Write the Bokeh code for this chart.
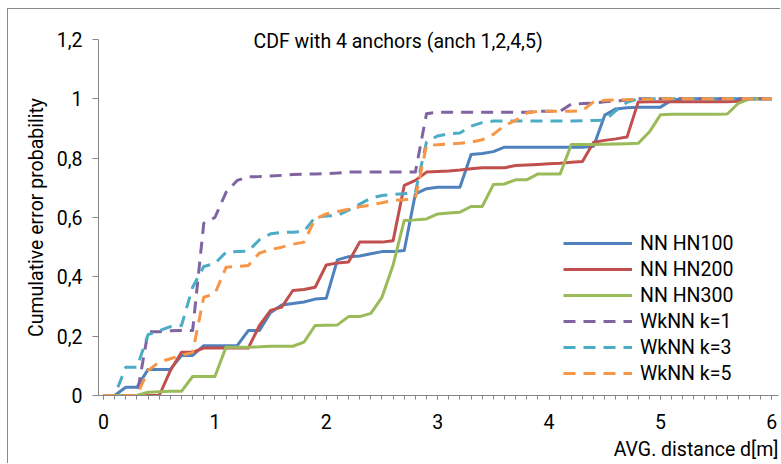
from bokeh.plotting import figure
from bokeh.models import (Range1d, SingleIntervalTicker, FixedTicker,
                          CustomJSTickFormatter, Legend, Title)
from bokeh.embed import file_html
from bokeh.resources import INLINE

# distance samples d[m]
DIST = [0.0, 0.1, 0.2, 0.3, 0.4, 0.5, 0.6, 0.7, 0.8, 0.9,
        1.0, 1.1, 1.2, 1.3, 1.4, 1.5, 1.6, 1.7, 1.8, 1.9,
        2.0, 2.1, 2.2, 2.3, 2.4, 2.5, 2.6, 2.7, 2.8, 2.9,
        3.0, 3.1, 3.2, 3.3, 3.4, 3.5, 3.6, 3.7, 3.8, 3.9,
        4.0, 4.1, 4.2, 4.3, 4.4, 4.5, 4.6, 4.7, 4.8, 4.9,
        5.0, 5.1, 5.2, 5.3, 5.4, 5.5, 5.6, 5.7, 5.8, 5.9,
        6.0]

NN_HN100 = [0, 0, 0.028, 0.028, 0.088, 0.088, 0.088, 0.135, 0.135, 0.168,
            0.168, 0.168, 0.168, 0.219, 0.219, 0.28, 0.305, 0.31, 0.315, 0.325,
            0.328, 0.457, 0.468, 0.47, 0.478, 0.485, 0.485, 0.489, 0.68, 0.697,
            0.702, 0.702, 0.702, 0.812, 0.816, 0.822, 0.837, 0.837, 0.837, 0.837,
            0.837, 0.837, 0.837, 0.837, 0.84, 0.945, 0.966, 0.97, 0.972, 0.972,
            0.972, 0.995, 1, 1, 1, 1, 1, 1, 1, 1,
            1]

NN_HN200 = [0, 0, 0, 0, 0, 0, 0.084, 0.146, 0.146, 0.16,
            0.16, 0.16, 0.16, 0.16, 0.236, 0.287, 0.298, 0.354, 0.357, 0.365,
            0.44, 0.447, 0.45, 0.517, 0.517, 0.517, 0.522, 0.708, 0.725, 0.753,
            0.755, 0.757, 0.76, 0.764, 0.768, 0.768, 0.768, 0.775, 0.777, 0.779,
            0.781, 0.783, 0.786, 0.789, 0.854, 0.86, 0.865, 0.871, 0.989, 0.99,
            0.99, 0.99, 0.99, 0.99, 0.99, 0.99, 0.99, 0.992, 1, 1,
            1]

NN_HN300 = [0, 0, 0, 0, 0.011, 0.013, 0.014, 0.014, 0.064, 0.064,
            0.064, 0.163, 0.163, 0.163, 0.164, 0.166, 0.166, 0.166, 0.18, 0.236,
            0.237, 0.238, 0.266, 0.266, 0.277, 0.331, 0.44, 0.59, 0.592, 0.595,
            0.612, 0.615, 0.618, 0.637, 0.637, 0.711, 0.713, 0.727, 0.727, 0.747,
            0.747, 0.747, 0.846, 0.846, 0.846, 0.847, 0.848, 0.849, 0.85, 0.888,
            0.946, 0.948, 0.948, 0.948, 0.948, 0.948, 0.949, 0.985, 1, 1,
            1]

WKNN_K1 = [0, 0, 0, 0, 0.215, 0.215, 0.218, 0.219, 0.219, 0.58,
           0.6, 0.685, 0.725, 0.737, 0.738, 0.74, 0.742, 0.745, 0.746, 0.747,
           0.748, 0.75, 0.753, 0.753, 0.753, 0.753, 0.753, 0.753, 0.753, 0.95,
           0.955, 0.955, 0.955, 0.955, 0.955, 0.955, 0.955, 0.955, 0.955, 0.958,
           0.958, 0.958, 0.983, 0.984, 0.986, 0.99, 0.993, 0.995, 1, 1,
           1, 1, 1, 1, 1, 1, 1, 1, 1, 1,
           1]

WKNN_K3 = [0, 0, 0.095, 0.095, 0.205, 0.218, 0.232, 0.236, 0.365, 0.435,
           0.445, 0.483, 0.485, 0.487, 0.525, 0.545, 0.55, 0.55, 0.553, 0.601,
           0.605, 0.607, 0.625, 0.645, 0.665, 0.674, 0.678, 0.68, 0.685, 0.855,
           0.875, 0.882, 0.885, 0.908, 0.92, 0.925, 0.925, 0.925, 0.925, 0.925,
           0.925, 0.925, 0.925, 0.926, 0.927, 0.928, 0.96, 0.988, 1, 1,
           1, 1, 1, 1, 1, 1, 1, 1, 1, 1,
           1]

WKNN_K5 = [0, 0, 0, 0, 0.084, 0.113, 0.124, 0.135, 0.146, 0.331,
           0.343, 0.432, 0.435, 0.438, 0.48, 0.492, 0.5, 0.51, 0.517, 0.595,
           0.612, 0.62, 0.628, 0.636, 0.642, 0.65, 0.657, 0.66, 0.665, 0.843,
           0.845, 0.848, 0.85, 0.854, 0.862, 0.88, 0.91, 0.927, 0.952, 0.958,
           0.958, 0.958, 0.958, 0.96, 0.99, 0.995, 0.996, 0.997, 0.998, 0.999,
           1, 1, 1, 1, 1, 1, 1, 1, 1, 1,
           1]

SERIES = [
    ("NN HN100", NN_HN100, "#4F81BD", "solid"),
    ("NN HN200", NN_HN200, "#C0504D", "solid"),
    ("NN HN300", NN_HN300, "#9BBB59", "solid"),
    ("WkNN k=1", WKNN_K1, "#8064A2", "12 8"),
    ("WkNN k=3", WKNN_K3, "#4BACC6", "12 8"),
    ("WkNN k=5", WKNN_K5, "#F79646", "12 8"),
]

Y_TICKS = [0, 0.2, 0.4, 0.6, 0.8, 1.0, 1.2]
TITLE = "CDF with 4 anchors (anch 1,2,4,5)"
X_LABEL = "AVG. distance d[m]"
Y_LABEL = "Cumulative error probability"

FONT = "Roboto"
FS = "19.5px"
AXIS_COLOR = "#868686"

p = figure(width=773, height=455,
           x_range=Range1d(-0.045, 6.06), y_range=Range1d(0, 1.2),
           output_backend="svg", toolbar_location=None,
           min_border_left=90, min_border_right=3,
           min_border_top=30, min_border_bottom=69,
           background_fill_color="white", border_fill_color="white")
p.styles = {"margin-left": "7px", "margin-top": "8px",
            "border-left": "1px solid #8a8a8a", "border-top": "1px solid #8a8a8a"}
p.outline_line_color = None
p.xgrid.visible = False
p.ygrid.visible = False

fmt = CustomJSTickFormatter(code="const v = Math.round(tick*10)/10; return v.toString().replace('.', ',');")

xa = p.xaxis[0]
xa.ticker = SingleIntervalTicker(interval=1, num_minor_ticks=10)
xa.formatter = fmt
xa.axis_line_color = AXIS_COLOR
xa.major_tick_line_color = AXIS_COLOR
xa.minor_tick_line_color = AXIS_COLOR
xa.major_tick_out = 4
xa.major_tick_in = 0
xa.minor_tick_out = 4
xa.minor_tick_in = 0
xa.major_label_text_font = FONT
xa.major_label_text_font_size = FS
xa.major_label_text_color = "black"
xa.major_label_standoff = 14

ya = p.yaxis[0]
ya.ticker = FixedTicker(ticks=Y_TICKS, minor_ticks=[])
ya.formatter = fmt
ya.axis_line_color = AXIS_COLOR
ya.major_tick_line_color = AXIS_COLOR
ya.minor_tick_line_color = None
ya.major_tick_out = 6
ya.major_tick_in = 0
ya.major_label_text_font = FONT
ya.major_label_text_font_size = FS
ya.major_label_text_color = "black"
ya.major_label_standoff = 10
ya.axis_label = Y_LABEL
ya.axis_label_text_font = FONT
ya.axis_label_text_font_size = FS
ya.axis_label_text_font_style = "normal"
ya.axis_label_text_color = "black"
ya.axis_label_standoff = 6

items = []
for name, vals, color, dash in SERIES:
    r = p.line(DIST, vals, line_color=color, line_width=3, line_dash=dash,
               line_join="round")
    items.append((name, [r]))

legend = Legend(items=items, location=(465, 9),
                glyph_width=69, glyph_height=26, label_height=26, spacing=0,
                label_standoff=8, padding=0, margin=0,
                border_line_color=None, background_fill_alpha=0,
                label_text_font=FONT, label_text_font_size=FS,
                label_text_color="black")
p.add_layout(legend)

p.add_layout(Title(text=TITLE, align="left", offset=155, standoff=-27,
                   text_font=FONT, text_font_size=FS, text_font_style="normal",
                   text_color="black"), "above")

p.add_layout(Title(text=X_LABEL, align="right", text_font=FONT,
                   text_font_size=FS, text_font_style="normal",
                   text_color="black", standoff=8), "below")

open("out.html", "w").write(file_html(p, INLINE))
